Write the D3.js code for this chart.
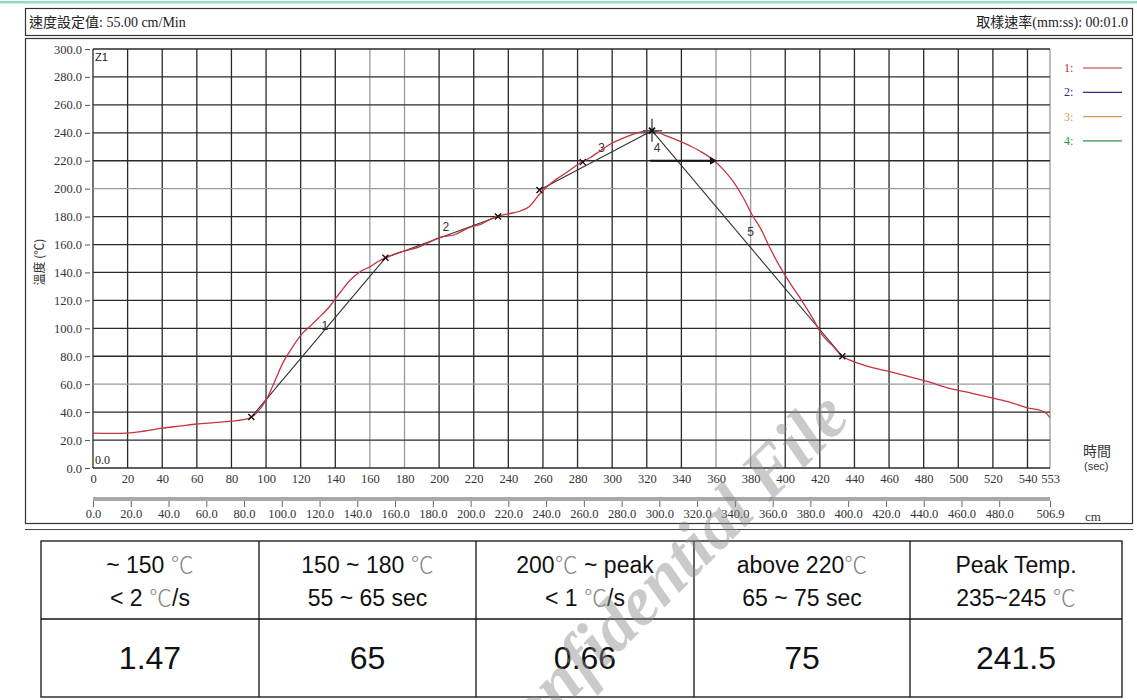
<!DOCTYPE html>
<html><head><meta charset="utf-8">
<script src="https://cdn.jsdelivr.net/npm/d3@7"></script>
<style>
html,body{margin:0;padding:0;background:#fff;}
svg{display:block;}
</style></head>
<body>
<svg id="c" width="1137" height="700"></svg>
<script>
// ---------- DATA ----------
const timeSec = [0,10,20,30,40,50,60,70,80,90,95,100,105,110,115,120,125,130,137,143,149,155,160,165,169,175,182,189,195,200,209,217,224,233,240,247,252,258,262,268,273,281,287,293,299,304,310,316,323,331,339,346,352,358,364,370,376,381,386,391,397,403,410,416,421,427,433,440,450,462,470,482,495,508,520,530,540,548,551,553];
const tempCurve = [25,24.8,25,26.5,28.5,30,31.5,32.5,33.5,35.5,40,48.5,62,76,86,95,101,107,116,126,135,141,144,148,150.5,153.5,156,158.5,162,165,167,172,174.5,180,182,184,187,196,201,207,211,218,222,227,232,235,238,240.5,241.5,238,234,230,226,221,214,205,193,181,171,158,144,132,119,107,96,88,80,76,72,68.5,66,62,57,53.5,50,47,43,41,39,36];

const yTickLabels = [0,20,40,60,80,100,120,140,160,180,200,220,240,260,280,300];
const xTickSec = [0,20,40,60,80,100,120,140,160,180,200,220,240,260,280,300,320,340,360,380,400,420,440,460,480,500,520,540,553];
const xTickCm = [0,20,40,60,80,100,120,140,160,180,200,220,240,260,280,300,320,340,360,380,400,420,440,460,480,506.9];
const lightGridX = [160,180,360,380,553];
const lightGridY = [60,200];

// measurement segments: [t,T]
const segStart = [[91.5,36.5],[169,150.5],[258,199],[323,241.5]];
const segEnd   = [[169,150.5],[234,180],[323,241.5],[433,80]];
const segLabels = ["1","2","3","5"];
const segLabelPos = [[132,99],[202,170],[292,226],[378,166]];
const markerPts = [[91.5,36.5],[169,150.5],[234,180],[258,199],[283,219],[433,80]];
const peakPt = [323,241.5];
const dwellStart = [322,220];
const dwellEnd = [359,220];
const dwellLabel = "4";
const dwellLabelPos = [324,226];

const legendNames = ["1:","2:","3:","4:"];
const legendColors = ["#c0303c","#2a2a90","#d49a55","#2a9a3a"];

const headerLeft = "速度設定值: 55.00 cm/Min";
const headerRight = "取樣速率(mm:ss): 00:01.0";

const tableHead1 = ["~ 150 |℃|", "150 ~ 180 |℃|", "200|℃| ~ peak", "above 220|℃|", "Peak Temp."];
const tableHead2 = ["< 2 |℃|/s", "55 ~ 65 sec", "< 1 |℃|/s", "65 ~ 75 sec", "235~245 |℃|"];
const tableValues = ["1.47","65","0.66","75","241.5"];

// ---------- DRAW ----------
const svg = d3.select("#c");
const serif = "'Liberation Serif','Noto Sans CJK TC',serif";
const sans = "'Liberation Sans',Arial,sans-serif";

// top teal line
svg.append("rect").attr("x",0).attr("y",1).attr("width",1137).attr("height",2.5).attr("fill","#8fdcce");

// header box
svg.append("rect").attr("x",25.5).attr("y",8.5).attr("width",1107).attr("height",27).attr("fill","none").attr("stroke","#333").attr("stroke-width",1.2);
svg.append("text").attr("x",29).attr("y",27).attr("font-family",serif).attr("font-size",14).attr("fill","#222").text(headerLeft);
svg.append("text").attr("x",1128).attr("y",27).attr("text-anchor","end").attr("font-family",serif).attr("font-size",14).attr("fill","#222").text(headerRight);

// chart box
svg.append("rect").attr("x",25.5).attr("y",38.5).attr("width",1107).attr("height",485).attr("fill","none").attr("stroke","#333").attr("stroke-width",1.2);
svg.append("line").attr("x1",25).attr("x2",1133).attr("y1",529.5).attr("y2",529.5).attr("stroke","#444").attr("stroke-width",1.2);

const x = d3.scaleLinear().domain([0,553]).range([93,1050]);
const y = d3.scaleLinear().domain([0,300]).range([468,49]);
const xcm = d3.scaleLinear().domain([0,506.9]).range([93,1050]);

// grid
svg.append("g").selectAll("line").data(xTickSec).join("line")
  .attr("x1",d=>x(d)).attr("x2",d=>x(d)).attr("y1",y(300)).attr("y2",y(0))
  .attr("stroke",d=>lightGridX.includes(d)?"#9a9a9a":"#2a2a2a").attr("stroke-width",1.3);
svg.append("g").selectAll("line").data(yTickLabels).join("line")
  .attr("x1",x(0)).attr("x2",x(553)).attr("y1",d=>y(d)).attr("y2",d=>y(d))
  .attr("stroke",d=>lightGridY.includes(d)?"#9a9a9a":"#2a2a2a").attr("stroke-width",1.3);

// y axis labels with dash
const yAxis = d3.axisLeft(y).tickValues(yTickLabels).tickSize(5).tickPadding(3).tickFormat(d=>d.toFixed(1));
const gy = svg.append("g").attr("transform",`translate(${x(0)-3},0)`).call(yAxis);
gy.select(".domain").remove();
gy.selectAll("text").attr("font-family",serif).attr("font-size",12.5).attr("fill","#333");
gy.selectAll("line").attr("stroke","#555");

// x axis (sec)
const xAxis = d3.axisBottom(x).tickValues(xTickSec).tickSize(0).tickPadding(6).tickFormat(d=>d);
const gx = svg.append("g").attr("transform",`translate(0,${y(0)})`).call(xAxis);
gx.select(".domain").remove();
gx.selectAll("text").attr("font-family",serif).attr("font-size",12.5).attr("fill","#333");

// cm axis
svg.append("rect").attr("x",x(0)).attr("y",497).attr("width",x(553)-x(0)).attr("height",4).attr("fill","#a8a8a8");
const cmAxis = d3.axisBottom(xcm).tickValues(xTickCm).tickSize(6).tickPadding(2).tickFormat(d=>d.toFixed(1));
const gc = svg.append("g").attr("transform",`translate(0,501)`).call(cmAxis);
gc.select(".domain").remove();
gc.selectAll("line").attr("stroke","#666");
gc.selectAll("text").attr("font-family",serif).attr("font-size",12.5).attr("fill","#333");

// axis titles
svg.append("text").attr("transform","translate(44,262) rotate(-90)").attr("text-anchor","middle")
  .attr("font-family","'Noto Sans CJK TC',sans-serif").attr("font-size",12).attr("fill","#333").text("溫度 (℃)");
svg.append("text").attr("x",1083).attr("y",456).attr("font-family","'Noto Sans CJK TC',sans-serif").attr("font-size",14).attr("fill","#333").text("時間");
svg.append("text").attr("x",1084).attr("y",470).attr("font-family",sans).attr("font-size",11).attr("fill","#333").text("(sec)");
svg.append("text").attr("x",1085).attr("y",521).attr("font-family",serif).attr("font-size",13).attr("fill","#333").text("cm");
svg.append("text").attr("x",x(0)+2).attr("y",y(300)+12).attr("font-family",sans).attr("font-size",11).attr("fill","#222").text("Z1");
svg.append("text").attr("x",x(0)+2).attr("y",y(0)-4).attr("font-family",serif).attr("font-size",12).attr("fill","#222").text("0.0");

// legend
const lg = svg.append("g").selectAll("g").data(legendNames).join("g")
  .attr("transform",(d,i)=>`translate(1064,${72+i*24.3})`);
lg.append("text").attr("x",0).attr("y",0).attr("font-family",serif).attr("font-size",12).attr("fill",(d,i)=>legendColors[i]).text(d=>d);
lg.append("line").attr("x1",19).attr("x2",58).attr("y1",-4).attr("y2",-4).attr("stroke",(d,i)=>legendColors[i]).attr("stroke-width",1.2);

// measurement segments
svg.append("g").selectAll("line").data(segStart).join("line")
  .attr("x1",d=>x(d[0])).attr("y1",d=>y(d[1]))
  .attr("x2",(d,i)=>x(segEnd[i][0])).attr("y2",(d,i)=>y(segEnd[i][1]))
  .attr("stroke","#333").attr("stroke-width",1.1);
svg.append("g").selectAll("text").data(segLabels).join("text")
  .attr("x",(d,i)=>x(segLabelPos[i][0])).attr("y",(d,i)=>y(segLabelPos[i][1]))
  .attr("font-family",sans).attr("font-size",12).attr("fill","#333").text(d=>d);

// red curve
const line = d3.line().x((d,i)=>x(timeSec[i])).y(d=>y(d)).curve(d3.curveMonotoneX);
svg.append("path").attr("d",line(tempCurve)).attr("fill","none").attr("stroke","#c8343e").attr("stroke-width",1.3);

// dwell arrow (line 4)
svg.append("line").attr("x1",x(dwellStart[0])).attr("y1",y(dwellStart[1])).attr("x2",x(dwellEnd[0])).attr("y2",y(dwellEnd[1]))
  .attr("stroke","#111").attr("stroke-width",2);
svg.append("path").attr("d",d3.symbol(d3.symbolTriangle,28)()).attr("transform",`translate(${x(dwellEnd[0])-2},${y(dwellEnd[1])}) rotate(90)`).attr("fill","#111");
svg.append("text").attr("x",x(dwellLabelPos[0])).attr("y",y(dwellLabelPos[1])).attr("font-family",sans).attr("font-size",12).attr("fill","#333").text(dwellLabel);

// x markers
const mk = svg.append("g").selectAll("g").data(markerPts).join("g").attr("transform",d=>`translate(${x(d[0])},${y(d[1])})`);
mk.append("path").attr("d","M-3,-3L3,3M-3,3L3,-3").attr("stroke","#111").attr("stroke-width",1.4);

// peak cross
const pk = svg.append("g").attr("transform",`translate(${x(peakPt[0])},${y(peakPt[1])})`);
pk.append("path").attr("d","M0,-12L0,11M-9,0L10,0").attr("stroke","#555").attr("stroke-width",1.5);
pk.append("path").attr("d","M-3,-3L3,3M-3,3L3,-3").attr("stroke","#111").attr("stroke-width",1.8);

// table
const colX = [41,259,476,694,910,1122];
const tTop = 541, tMid = 619, tBot = 697;
const tg = svg.append("g");
tg.append("rect").attr("x",colX[0]).attr("y",tTop).attr("width",colX[5]-colX[0]).attr("height",tBot-tTop).attr("fill","none").attr("stroke","#111").attr("stroke-width",1.3);
tg.append("line").attr("x1",colX[0]).attr("x2",colX[5]).attr("y1",tMid).attr("y2",tMid).attr("stroke","#111").attr("stroke-width",1.3);
tg.selectAll(".cv").data(colX.slice(1,5)).join("line").attr("class","cv")
  .attr("x1",d=>d).attr("x2",d=>d).attr("y1",tTop).attr("y2",tBot).attr("stroke","#111").attr("stroke-width",1.3);

function richText(sel, str){
  str.split("|").forEach(part=>{
    if(!part) return;
    const isDeg = part==="℃";
    sel.append("tspan").text(part)
      .attr("fill",isDeg?"#8a8a8a":"#111")
      .attr("font-family",isDeg?"'Noto Sans CJK TC',sans-serif":sans)
      .attr("font-weight",isDeg?"300":"normal");
  });
}
const centers = d3.range(5).map(i=>(colX[i]+colX[i+1])/2);
tableHead1.forEach((s,i)=>{
  const t = tg.append("text").attr("x",centers[i]).attr("y",573).attr("text-anchor","middle").attr("font-size",23).attr("font-family",sans);
  richText(t,s);
});
tableHead2.forEach((s,i)=>{
  const t = tg.append("text").attr("x",centers[i]).attr("y",606).attr("text-anchor","middle").attr("font-size",23).attr("font-family",sans);
  richText(t,s);
});
tg.selectAll(".val").data(tableValues).join("text").attr("class","val")
  .attr("x",(d,i)=>centers[i]).attr("y",669).attr("text-anchor","middle")
  .attr("font-family",sans).attr("font-size",32).attr("fill","#111").text(d=>d);

// watermark
svg.append("text").attr("transform","translate(852,420) rotate(-45)").attr("text-anchor","end")
  .attr("font-family","'Liberation Serif',serif").attr("font-weight","bold").attr("font-style","italic")
  .attr("font-size",70).attr("fill","#8a8a8a").attr("fill-opacity",0.45).text("Confidential File");
</script>
</body></html>
